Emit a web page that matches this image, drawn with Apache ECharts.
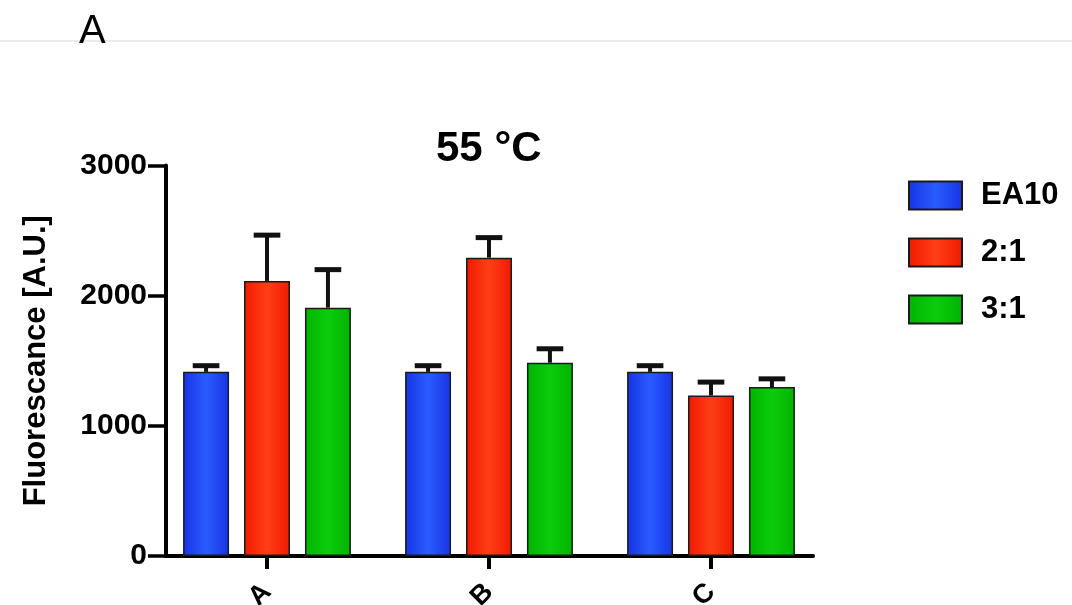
<!DOCTYPE html>
<html>
<head>
<meta charset="utf-8">
<script src="https://cdn.jsdelivr.net/npm/echarts@6/dist/echarts.min.js"></script>
<style>
  html, body { margin: 0; padding: 0; background: #fff; }
  #chart { width: 1072px; height: 605px; }
</style>
</head>
<body>
<div id="chart"></div>
<script>
// Fluorescence at 55 °C per sample group
const categories = ['A', 'B', 'C'];
const seriesNames = ['EA10', '2:1', '3:1'];
const ea10 = [1415, 1415, 1415];
const ratio21 = [2113, 2292, 1233];
const ratio31 = [1908, 1485, 1298];
// upper error (SD) for each bar
const ea10Err = [47, 47, 47];
const ratio21Err = [352, 154, 103];
const ratio31Err = [292, 107, 63];
const yTicks = [0, 1000, 2000, 3000];

const FONT = 'Liberation Sans';
const BAR_WIDTH = 0.207;   // fraction of the category band
const BAR_GAP = 0.326;     // fraction of the bar width
const CAP_HALF = 0.29;     // half cap width, fraction of bar width

function grad(edge, mid) {
  return {
    type: 'linear', x: 0, y: 0, x2: 1, y2: 0,
    colorStops: [
      { offset: 0, color: edge },
      { offset: 0.5, color: mid },
      { offset: 1, color: edge }
    ]
  };
}

const fills = [
  grad('#1633e4', '#2a5cff'),
  grad('#f01a00', '#ff3e16'),
  grad('#00b400', '#0ccc0c')
];
const values = [ea10, ratio21, ratio31];
const errs = [ea10Err, ratio21Err, ratio31Err];

const barSeries = values.map((v, i) => ({
  name: seriesNames[i],
  type: 'bar',
  xAxisIndex: 0,
  yAxisIndex: 0,
  data: v,
  barWidth: (BAR_WIDTH * 100) + '%',
  barGap: (BAR_GAP * 100) + '%',
  itemStyle: { color: fills[i], borderColor: '#1a1a1a', borderWidth: 1.5 }
}));

const errSeries = values.map((v, i) => ({
  type: 'custom',
  xAxisIndex: 0,
  yAxisIndex: 0,
  z: 5,
  data: v.map((val, k) => [k, val, errs[i][k]]),
  encode: { x: 0, y: 1 },
  renderItem: function (params, api) {
    const cat = api.value(0), val = api.value(1), err = api.value(2);
    const band = api.size([1, 0])[0];
    const bw = band * BAR_WIDTH;
    const step = bw * (1 + BAR_GAP);
    const base = api.coord([cat, val]);
    const top = api.coord([cat, val + err]);
    const x = base[0] + (i - 1) * step;
    const half = bw * CAP_HALF;
    return {
      type: 'group',
      children: [
        { type: 'line', shape: { x1: x, y1: base[1], x2: x, y2: top[1] },
          style: { stroke: '#111', lineWidth: 4 } },
        { type: 'line', shape: { x1: x - half, y1: top[1], x2: x + half, y2: top[1] },
          style: { stroke: '#111', lineWidth: 5 } }
      ]
    };
  }
}));

const chart = echarts.init(document.getElementById('chart'), null, { renderer: 'canvas' });

chart.setOption({
  animation: false,
  backgroundColor: '#fff',
  textStyle: { fontFamily: FONT },
  title: {
    text: '55 °C',
    left: 436,
    top: 128,
    padding: 0,
    textStyle: { fontFamily: FONT, fontSize: 42, fontWeight: 'bold', color: '#000' }
  },
  legend: {
    data: seriesNames,
    orient: 'vertical',
    left: 908,
    top: 180,
    padding: 0,
    itemWidth: 53,
    itemHeight: 28,
    itemGap: 26,
    icon: 'rect',
    textStyle: { fontFamily: FONT, fontSize: 31, fontWeight: 'bold', color: '#000', padding: [0, 0, 0, 14] }
  },
  graphic: [
    { type: 'line', shape: { x1: 0, y1: 41, x2: 1072, y2: 41 },
      style: { stroke: '#e4e4e4', lineWidth: 1.5 }, z: 0 },
    { type: 'text', x: 79, y: 31.5, z: 10,
      style: { text: 'A', font: '40px "Liberation Sans"', fill: '#000', textVerticalAlign: 'middle' } }
  ],
  grid: [
    { left: 156, top: 165.5, width: 666, height: 390.5, outerBoundsMode: 'none' },
    { left: 166, top: 165.5, width: 647, height: 390.5, outerBoundsMode: 'none' }
  ],
  xAxis: [
    {
      type: 'category', gridIndex: 0, data: categories,
      axisLine: { show: false },
      axisTick: { show: true, alignWithLabel: true, length: 13, lineStyle: { width: 4, color: '#000' } },
      axisLabel: { rotate: 45, margin: 32, fontFamily: FONT, fontSize: 27, fontWeight: 'bold', color: '#000' }
    },
    {
      type: 'value', gridIndex: 1, min: 0, max: 1,
      axisLine: { show: true, lineStyle: { width: 4, color: '#000' } },
      axisTick: { show: false }, axisLabel: { show: false }, splitLine: { show: false }
    }
  ],
  yAxis: [
    { type: 'value', gridIndex: 0, min: 0, max: 3000, show: false },
    {
      type: 'value', gridIndex: 1, min: yTicks[0], max: yTicks[yTicks.length - 1], interval: 1000,
      name: 'Fluorescance [A.U.]', nameLocation: 'middle', nameGap: 114,
      nameTextStyle: { fontFamily: FONT, fontSize: 31, fontWeight: 'bold', color: '#000' },
      axisLine: { show: true, lineStyle: { width: 4, color: '#000' } },
      axisTick: { show: true, length: 18, lineStyle: { width: 3.5, color: '#000' } },
      axisLabel: {
        margin: 19, fontFamily: FONT, fontSize: 30, fontWeight: 'bold', color: '#000',
        formatter: function (v) { return String(v); }
      },
      splitLine: { show: false }
    }
  ],
  series: barSeries.concat(errSeries)
});
</script>
</body>
</html>
